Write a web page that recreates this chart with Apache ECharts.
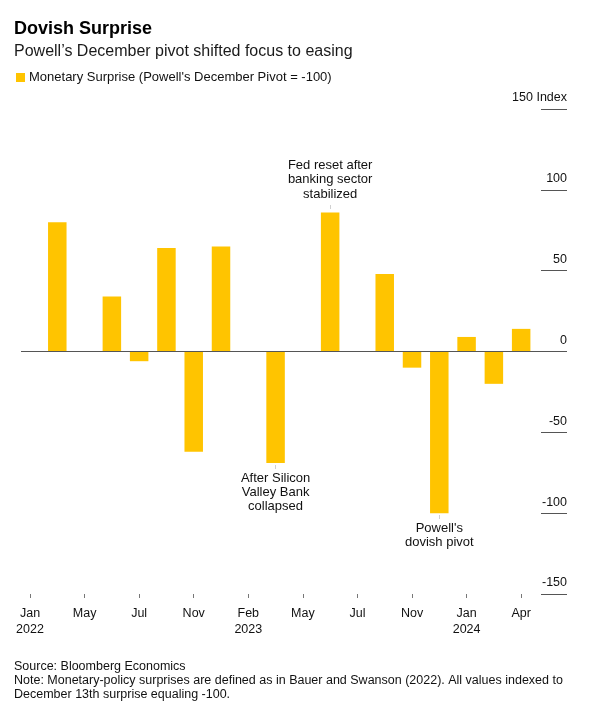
<!DOCTYPE html>
<html>
<head>
<meta charset="utf-8">
<script src="https://cdn.jsdelivr.net/npm/echarts@6/dist/echarts.min.js"></script>
<style>
html, body { margin: 0; padding: 0; background: #fff; }
#chart { width: 599px; height: 719px; }
</style>
</head>
<body>
<div id="chart"></div>
<script>
// FOMC meetings, Jan 2022 - Apr 2024
var meetings = ['Jan 2022', 'Mar 2022', 'May 2022', 'Jun 2022', 'Jul 2022', 'Sep 2022', 'Nov 2022', 'Dec 2022',
	'Feb 2023', 'Mar 2023', 'May 2023', 'Jun 2023', 'Jul 2023', 'Sep 2023', 'Nov 2023', 'Dec 2023',
	'Jan 2024', 'Mar 2024', 'Apr 2024'];
var surprise = [null, 80, null, 34, -6, 64, -62, 65, null, -69, null, 86, null, 48, -10, -100, 9, -20, 14];

var tickIndex = [0, 2, 4, 6, 8, 10, 12, 14, 16, 18];
var tickLabels = ['Jan\n2022', 'May', 'Jul', 'Nov', 'Feb\n2023', 'May', 'Jul', 'Nov', 'Jan\n2024', 'Apr'];

// notes on single bars
var notes = {
	9: 'After Silicon\nValley Bank\ncollapsed',
	11: 'Fed reset after\nbanking sector\nstabilized',
	15: 'Powell\'s\ndovish pivot'
};

var seriesName = 'Monetary Surprise (Powell\'s December Pivot = -100)';
var font = 'Liberation Sans, Arial, sans-serif';

var barData = [];
for (var i = 0; i < meetings.length; i++) {
	var item = { value: [i, surprise[i]], name: meetings[i] };
	if (notes[i]) {
		var lines = notes[i].split('\n');
		var txt = lines.map(function (l) { return '{a|' + l + '}'; }).join('\n');
		var up = surprise[i] > 0;
		item.label = {
			show: true,
			position: 'outside',
			distance: 0,
			formatter: up ? txt + '\n{t||}' : '{t||}\n' + txt,
			rich: {
				a: { fontSize: 13, lineHeight: up ? 14.4 : 14.3, color: '#111', fontFamily: font, align: 'center' },
				t: { fontSize: 4, lineHeight: up ? 11 : 8, color: '#777', align: 'center' }
			}
		};
	}
	barData.push(item);
}

var myChart = echarts.init(document.getElementById('chart'), null, { renderer: 'canvas' });

var option = {
	backgroundColor: '#fff',
	animation: false,
	textStyle: { fontFamily: font },
	title: [{
		text: 'Dovish Surprise',
		left: 14, top: 20, padding: 0,
		textStyle: { fontSize: 18, fontWeight: 'bold', color: '#000', fontFamily: font }
	}, {
		text: 'Powell\u2019s December pivot shifted focus to easing',
		left: 14, top: 44, padding: 0,
		textStyle: { fontSize: 16, fontWeight: 'normal', color: '#1a1a1a', fontFamily: font }
	}, {
		text: 'Source: Bloomberg Economics\nNote: Monetary-policy surprises are defined as in Bauer and Swanson (2022). All values indexed to\nDecember 13th surprise equaling -100.',
		left: 14, top: 660, padding: 0,
		textStyle: { fontSize: 12.5, lineHeight: 14, fontWeight: 'normal', color: '#111', fontFamily: font }
	}],
	legend: {
		left: 16, top: 71, padding: 0,
		icon: 'rect',
		itemWidth: 9, itemHeight: 9,
		itemGap: 5,
		textStyle: { fontSize: 13, color: '#111', fontFamily: font, padding: [0, 0, 0, -1] },
		data: [seriesName]
	},
	grid: [
		{ left: 21, right: 32, top: 109, bottom: 125 },
		{ left: 541, width: 26, top: 109, bottom: 125 }
	],
	xAxis: [{
		type: 'value',
		gridIndex: 0,
		min: -0.33,
		max: 19.68,
		splitLine: { show: false },
		axisLine: { show: false, onZero: false },
		axisTick: {
			show: true, length: 4,
			customValues: tickIndex,
			lineStyle: { color: '#777', width: 1 }
		},
		axisLabel: {
			customValues: tickIndex,
			margin: 12,
			fontSize: 12.5,
			lineHeight: 15.6,
			color: '#111',
			fontFamily: font,
			formatter: function (v) {
				var k = tickIndex.indexOf(Math.round(v));
				return k >= 0 ? tickLabels[k] : '';
			}
		}
	}, {
		type: 'value',
		gridIndex: 1,
		show: false
	}],
	yAxis: [{
		type: 'value',
		gridIndex: 0,
		min: -150, max: 150, interval: 50,
		show: false
	}, {
		type: 'value',
		gridIndex: 1,
		position: 'right',
		min: -150, max: 150, interval: 50,
		axisLine: { show: false },
		axisTick: { show: false },
		splitLine: { show: true, lineStyle: { color: '#555', width: 1 } },
		axisLabel: {
			inside: true,
			margin: 0,
			verticalAlign: 'bottom',
			padding: [0, 0, 4, 0],
			fontSize: 12.5,
			lineHeight: 14,
			color: '#111',
			fontFamily: font,
			formatter: function (v) { return v === 150 ? '150 Index' : String(v); }
		}
	}],
	series: [{
		name: seriesName,
		type: 'bar',
		xAxisIndex: 0,
		yAxisIndex: 0,
		barWidth: 18.5,
		itemStyle: { color: '#FFC400' },
		data: barData,
		markLine: {
			silent: true,
			symbol: 'none',
			label: { show: false },
			lineStyle: { color: '#555', width: 1, type: 'solid' },
			data: [{ yAxis: 0 }]
		}
	}]
};

myChart.setOption(option);
</script>
</body>
</html>
